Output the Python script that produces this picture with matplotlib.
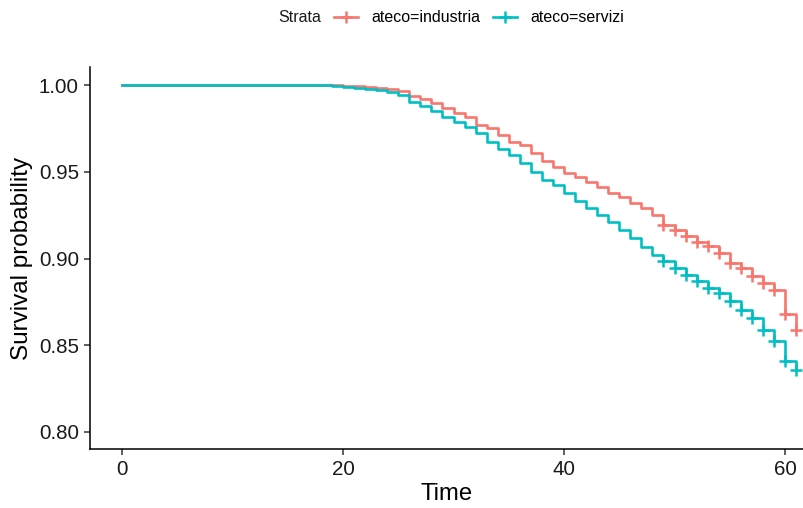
import matplotlib
matplotlib.use("Agg")
import matplotlib.pyplot as plt
from matplotlib.lines import Line2D

plt.rcParams['font.family'] = ['Liberation Sans', 'DejaVu Sans']

# tempi (mesi) e stime di sopravvivenza Kaplan-Meier
times = [0, 19, 20, 21, 22, 23, 24, 25, 26, 27, 28, 29, 30, 31, 32, 33, 34, 35,
         36, 37, 38, 39, 40, 41, 42, 43, 44, 45, 46, 47, 48, 49, 50, 51, 52,
         53, 54, 55, 56, 57, 58, 59, 60, 61]

surv_industria = [1.0, 0.9998, 0.9996, 0.9992, 0.9986, 0.9984, 0.9975, 0.9966,
                  0.9935, 0.9918, 0.9895, 0.9868, 0.9841, 0.9816, 0.9768, 0.9755,
                  0.9711, 0.9669, 0.9653, 0.9606, 0.9562, 0.9529, 0.9491, 0.9471,
                  0.9443, 0.9410, 0.9376, 0.9353, 0.9318, 0.9290, 0.9251, 0.9194,
                  0.9165, 0.9131, 0.9098, 0.9074, 0.9031, 0.8977, 0.8945, 0.8897,
                  0.8859, 0.8820, 0.8680, 0.8590]

surv_servizi = [1.0, 0.9993, 0.9990, 0.9985, 0.9977, 0.9970, 0.9960, 0.9945,
                0.9904, 0.9877, 0.9848, 0.9818, 0.9787, 0.9759, 0.9721, 0.9672,
                0.9631, 0.9596, 0.9548, 0.9500, 0.9452, 0.9424, 0.9376, 0.9333,
                0.9290, 0.9251, 0.9213, 0.9165, 0.9117, 0.9069, 0.9021, 0.8983,
                0.8945, 0.8906, 0.8868, 0.8830, 0.8801, 0.8753, 0.8705, 0.8657,
                0.8590, 0.8523, 0.8408, 0.8356]

# tempi di censura (marcati con +)
cens_times = [49, 50, 51, 52, 53, 54, 55, 56, 57, 58, 59, 60, 61]

strata = ['ateco=industria', 'ateco=servizi']
colors = ['#F8766D', '#00BFC4']

fig = plt.figure(figsize=(8.04, 5.08), dpi=100)
ax = fig.add_axes([90 / 804, 59 / 508, 714 / 804, 382 / 508])

for surv, col in zip([surv_industria, surv_servizi], colors):
    ax.step(times, surv, where='post', color=col, lw=1.9)
    cy = [surv[times.index(t)] for t in cens_times]
    ax.plot(cens_times, cy, linestyle='none', marker='+', ms=9, mew=1.8,
            color=col)

ax.set_xlim(-2.9, 61.72)
ax.set_ylim(0.7902, 1.0104)
ax.set_xticks([0, 20, 40, 60])
ax.set_yticks([0.80, 0.85, 0.90, 0.95, 1.00])
ax.set_yticklabels(['0.80', '0.85', '0.90', '0.95', '1.00'])

for s in ['top', 'right']:
    ax.spines[s].set_visible(False)
for s in ['left', 'bottom']:
    ax.spines[s].set_linewidth(1.1)
    ax.spines[s].set_color('black')
ax.tick_params(axis='both', length=4, width=1.1, color='#333333',
               labelsize=14.8, labelcolor='#1a1a1a', pad=4)

ax.set_xlabel('Time', fontsize=17.2, color='black', labelpad=3)
ax.set_ylabel('Survival probability', fontsize=17.5, color='black', labelpad=4)

# legenda in alto
fig.text(278 / 804, 1 - 18 / 508, 'Strata', fontsize=11.5, va='center',
         ha='left', color='#1a1a1a')
handles = [Line2D([], [], color=c, lw=1.9, marker='+', ms=9, mew=1.8)
           for c in colors]
fig.legend(handles, strata, loc='center left',
           bbox_to_anchor=(334 / 804, 1 - 18 / 508), ncol=2, frameon=False,
           fontsize=11.5, handlelength=1.5, handletextpad=0.85,
           columnspacing=0.8, borderpad=0, borderaxespad=0)

fig.savefig('out.png', dpi=100)
